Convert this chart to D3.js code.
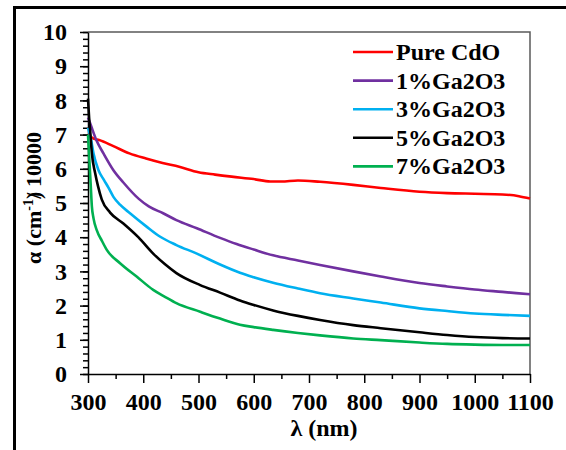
<!DOCTYPE html>
<html>
<head>
<meta charset="utf-8">
<script src="https://cdn.jsdelivr.net/npm/d3@7"></script>
<style>
  body { margin: 0; background: #fff; }
</style>
</head>
<body>
<script>
// data: [wavelength nm, alpha / 10000]
var pureCdO = [[300,7.0],[310,6.88],[320,6.84],[345,6.67],[375,6.45],[405,6.3],[435,6.17],[465,6.06],[500,5.9],[530,5.83],[560,5.77],[600,5.7],[630,5.63],[650,5.63],[680,5.66],[720,5.62],[780,5.53],[830,5.44],[900,5.33],[950,5.29],[1000,5.27],[1050,5.25],[1080,5.2],[1100,5.13]];
var ga1 = [[300,7.5],[305,7.28],[315,6.84],[328,6.45],[346,5.96],[364,5.6],[392,5.12],[410,4.9],[436,4.7],[460,4.5],[497,4.26],[539,3.98],[569,3.8],[600,3.64],[635,3.47],[680,3.32],[720,3.19],[780,3.0],[830,2.85],[900,2.66],[950,2.56],[1000,2.47],[1050,2.4],[1100,2.33]];
var ga3 = [[300,7.2],[305,6.9],[310,6.45],[319,5.96],[329,5.67],[337,5.45],[346,5.18],[358,4.95],[376,4.7],[406,4.31],[430,4.02],[460,3.77],[497,3.52],[539,3.2],[575,2.96],[600,2.83],[635,2.67],[680,2.5],[720,2.36],[780,2.21],[830,2.09],[900,1.92],[950,1.84],[1000,1.77],[1050,1.73],[1100,1.7]];
var ga5 = [[300,8.05],[302,7.5],[304,7.1],[307,6.45],[313,5.87],[318,5.5],[325,5.1],[340,4.72],[364,4.4],[391,4.0],[418,3.52],[440,3.2],[460,2.95],[503,2.6],[539,2.38],[575,2.15],[600,2.02],[635,1.86],[680,1.7],[720,1.58],[780,1.43],[830,1.34],[900,1.22],[950,1.14],[1000,1.08],[1050,1.05],[1100,1.04]];
var ga7 = [[300,7.0],[302,6.4],[305,5.5],[307,4.9],[310,4.55],[316,4.2],[325,3.9],[334,3.63],[358,3.24],[388,2.85],[418,2.46],[440,2.25],[460,2.07],[503,1.82],[539,1.62],[575,1.44],[600,1.37],[635,1.29],[680,1.2],[720,1.13],[780,1.04],[830,0.99],[900,0.92],[950,0.88],[1000,0.86],[1050,0.85],[1100,0.85]];

var seriesNames = ["Pure CdO", "1%Ga2O3", "3%Ga2O3", "5%Ga2O3", "7%Ga2O3"];
var seriesData = [pureCdO, ga1, ga3, ga5, ga7];
var seriesColors = ["#ff0000", "#7030a0", "#00b0f0", "#000000", "#00b050"];

var xTicks = [300, 400, 500, 600, 700, 800, 900, 1000, 1100];
var yTicks = [0, 1, 2, 3, 4, 5, 6, 7, 8, 9, 10];

var font = "Liberation Serif";

var w = 566, h = 450;
var margin = {top: 32, right: 36, bottom: 76, left: 88};

var svg = d3.select("body").append("svg")
  .attr("width", w)
  .attr("height", h);

// outer frame (runs off the right and bottom edge)
svg.append("rect")
  .attr("x", 14.5).attr("y", 7.5)
  .attr("width", 700).attr("height", 600)
  .attr("fill", "none")
  .attr("stroke", "#000")
  .attr("stroke-width", 3);

var x = d3.scaleLinear().domain([300, 1100]).range([margin.left, w - margin.right]);
var y = d3.scaleLinear().domain([0, 10]).range([h - margin.bottom, margin.top]);

// top and right edges of the plot box
svg.append("path")
  .attr("d", "M" + x(300) + "," + y(10) + "H" + x(1100) + "V" + y(0))
  .attr("fill", "none")
  .attr("stroke", "#595959")
  .attr("stroke-width", 1.5);

// minor ticks
var xMinor = d3.range(350, 1100, 100);
var yMinor = d3.range(0, 10.001, 0.2);

svg.append("g")
  .attr("transform", "translate(0," + y(0) + ")")
  .call(d3.axisBottom(x).tickValues(xMinor).tickSize(5).tickFormat(""))
  .call(function(g){ g.select(".domain").remove(); })
  .selectAll("line").attr("stroke", "#000").attr("stroke-width", 1.5);

svg.append("g")
  .attr("transform", "translate(" + x(300) + ",0)")
  .call(d3.axisLeft(y).tickValues(yMinor).tickSize(5).tickFormat(""))
  .call(function(g){ g.select(".domain").remove(); })
  .selectAll("line").attr("stroke", "#000").attr("stroke-width", 1.5);

// major axes
var xAxis = d3.axisBottom(x).tickValues(xTicks).tickSize(9).tickSizeOuter(0)
  .tickPadding(10).tickFormat(d3.format("d"));
var gx = svg.append("g")
  .attr("transform", "translate(0," + y(0) + ")")
  .call(xAxis);
gx.attr("font-family", font).attr("font-size", 24).attr("font-weight", "bold");
gx.select(".domain").attr("stroke", "#000").attr("stroke-width", 1.5);
gx.selectAll("line").attr("stroke", "#000").attr("stroke-width", 1.5);
gx.selectAll("text").attr("fill", "#000");

var yAxis = d3.axisLeft(y).tickValues(yTicks).tickSize(8).tickSizeOuter(0)
  .tickPadding(13).tickFormat(d3.format("d"));
var gy = svg.append("g")
  .attr("transform", "translate(" + x(300) + ",0)")
  .call(yAxis);
gy.attr("font-family", font).attr("font-size", 24).attr("font-weight", "bold");
gy.select(".domain").attr("stroke", "#000").attr("stroke-width", 1.5);
gy.selectAll("line").attr("stroke", "#000").attr("stroke-width", 1.5);
gy.selectAll("text").attr("fill", "#000");

// curves
var line = d3.line()
  .x(function(d){ return x(d[0]); })
  .y(function(d){ return y(d[1]); })
  .curve(d3.curveMonotoneX);

svg.selectAll("path.series")
  .data(seriesData)
  .enter().append("path")
  .attr("class", "series")
  .attr("d", line)
  .attr("fill", "none")
  .attr("stroke", function(d, i){ return seriesColors[i]; })
  .attr("stroke-width", 2.6)
  .attr("stroke-linejoin", "round");

// legend
var legend = svg.selectAll("g.legend")
  .data(seriesNames)
  .enter().append("g")
  .attr("class", "legend")
  .attr("transform", function(d, i){ return "translate(353," + (52 + i * 28.6) + ")"; });

legend.append("line")
  .attr("x1", 0).attr("x2", 40)
  .attr("stroke", function(d, i){ return seriesColors[i]; })
  .attr("stroke-width", 2.6);

legend.append("text")
  .attr("x", 43)
  .attr("dy", "0.33em")
  .attr("font-family", font)
  .attr("font-weight", "bold")
  .attr("font-size", 24)
  .text(function(d){ return d; });

// axis titles
svg.append("text")
  .attr("x", 324)
  .attr("y", 436)
  .attr("text-anchor", "middle")
  .attr("font-family", font)
  .attr("font-weight", "bold")
  .attr("font-size", 24)
  .text("λ (nm)");

var yt = svg.append("text")
  .attr("transform", "translate(41,198) rotate(-90)")
  .attr("text-anchor", "middle")
  .attr("font-family", font)
  .attr("font-weight", "bold")
  .attr("font-size", 22);
yt.append("tspan").text("α  (cm");
yt.append("tspan").attr("dy", -8).attr("font-size", 14).text("-1");
yt.append("tspan").attr("dy", 8).text(")");
yt.append("tspan").attr("dx", -7).text("/");
yt.append("tspan").text(" 10000");
</script>
</body>
</html>
